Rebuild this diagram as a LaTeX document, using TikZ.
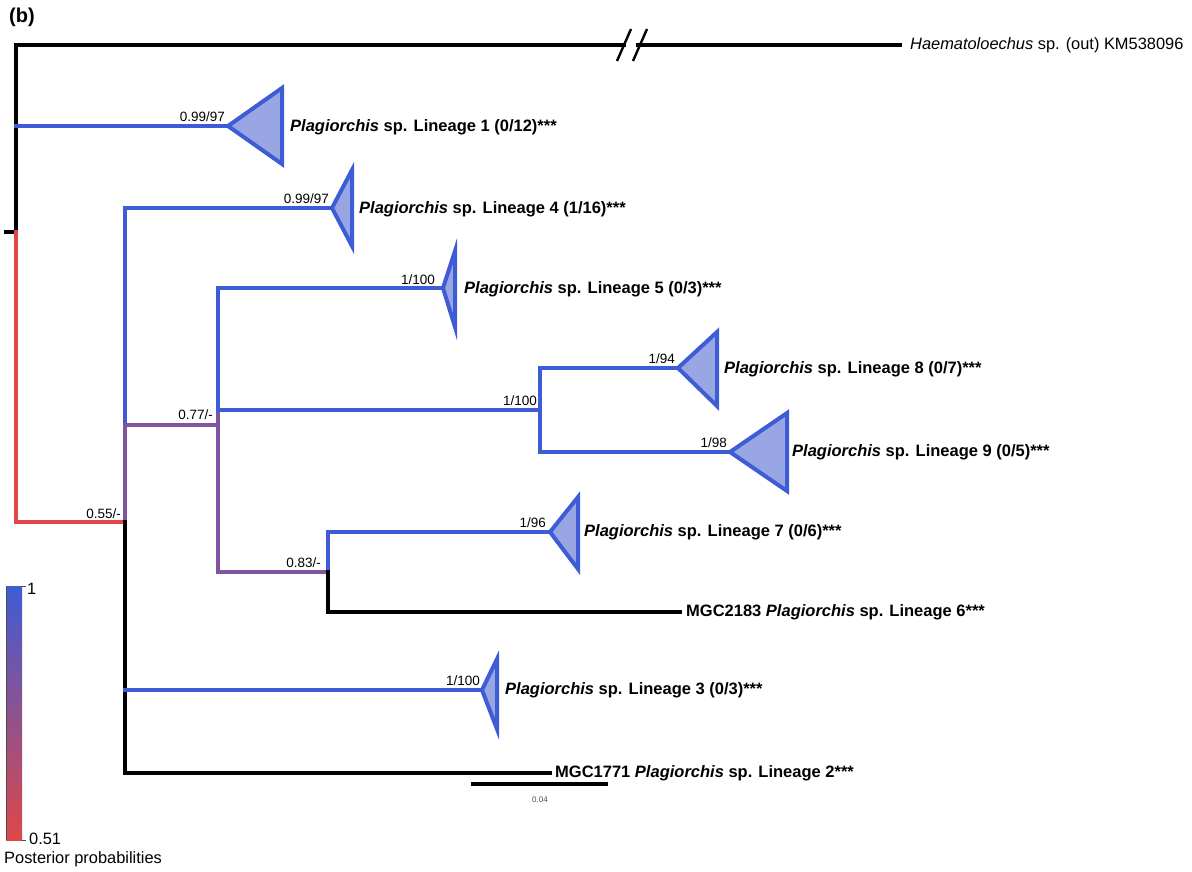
\documentclass[tikz,border=0pt]{standalone}
\usepackage{fontspec}
\setmainfont{Liberation Sans}
\definecolor{tblue}{RGB}{62,92,214}
\definecolor{tfill}{RGB}{152,166,228}
\definecolor{tred}{RGB}{222,72,72}
\definecolor{tpurp}{RGB}{128,84,160}
\tikzset{
  br/.style={line width=3.6pt, line cap=rect},
  tri/.style={line width=4pt, draw=tblue, fill=tfill, line join=miter},
  sup/.style={anchor=south east, inner sep=0pt, font=\fontsize{13.5}{14}\selectfont},
  lab/.style={anchor=west, inner sep=0pt, font=\fontsize{16.5}{18}\selectfont\bfseries},
}
\begin{document}
\begin{tikzpicture}[x=1pt,y=-1pt]
\useasboundingbox (0,0) rectangle (1192,871);
\node[anchor=north west, inner sep=0pt, font=\fontsize{20}{22}\selectfont\bfseries] (panel) at (9,8) {(b)};
% coordinates of internal nodes
\coordinate (root) at (16,232);
\coordinate (n55) at (125,522);
\coordinate (n77) at (218,425);
\coordinate (n89) at (540,410);
\coordinate (n83) at (328,572);
% outgroup
\draw[br] (6,232) -- (16,232);
\draw[br] (16,232) -- (16,45) -- (624,45);
\draw[br] (638,45) -- (900,45);
\draw[line width=2.4pt] (617,61) -- (631,29);
\draw[line width=2.4pt] (633,61) -- (647,29);
\node[anchor=west, inner sep=0pt, font=\fontsize{16.4}{18}\selectfont] (out) at (910,45) {\textit{Haematoloechus} sp. (out) KM538096};
% root red
\draw[br, tred] (16,232) -- (16,522) -- (n55);
\node[sup] (s55) at (121,519) {0.55/-};
% lineage 1
\draw[br, tblue] (16,126) -- (228,126);
\draw[tri] (228,126) -- (282,88) -- (282,164) -- cycle;
\node[sup] (s1) at (225,122) {0.99/97};
\node[lab] (L1) at (290,127) {\textit{Plagiorchis} sp. Lineage 1 (0/12)***};
% node 0.55 vertical
\draw[br, tblue] (125,208) -- (125,425);
\draw[br, tpurp] (125,425) -- (n55);
\draw[br, black] (n55) -- (125,773);
% lineage 4
\draw[br, tblue] (125,208) -- (332,208);
\draw[tri] (332,208) -- (352,170) -- (352,246) -- cycle;
\node[sup] (s4) at (329,204) {0.99/97};
\node[lab] (L4) at (359,209) {\textit{Plagiorchis} sp. Lineage 4 (1/16)***};
% 0.77 clade
\draw[br, tpurp] (125,425) -- (n77);
\node[sup] (s77) at (213,420) {0.77/-};
\draw[br, tblue] (218,288) -- (218,410);
\draw[br, tpurp] (218,410) -- (218,572) -- (n83);
% lineage 5
\draw[br, tblue] (218,288) -- (443,288);
\draw[tri] (443,288) -- (455,251) -- (455,327) -- cycle;
\node[sup] (s5) at (435,285) {1/100};
\node[lab] (L5) at (464,289) {\textit{Plagiorchis} sp. Lineage 5 (0/3)***};
% clade 8/9
\draw[br, tblue] (218,410) -- (n89);
\node[sup] (s89) at (537,406) {1/100};
\draw[br, tblue] (540,368) -- (540,452);
\draw[br, tblue] (540,368) -- (678,368);
\draw[tri] (678,368) -- (717,332) -- (717,406) -- cycle;
\node[sup] (s8) at (675,364) {1/94};
\node[lab] (L8) at (724,369) {\textit{Plagiorchis} sp. Lineage 8 (0/7)***};
\draw[br, tblue] (540,452) -- (730,452);
\draw[tri] (730,452) -- (787,413) -- (787,491) -- cycle;
\node[sup] (s9) at (727,448) {1/98};
\node[lab] (L9) at (792,452) {\textit{Plagiorchis} sp. Lineage 9 (0/5)***};
% 0.83 clade
\node[sup] (s83) at (321,568) {0.83/-};
\draw[br, tblue] (328,532) -- (n83);
\draw[br, black] (n83) -- (328,612);
\draw[br, tblue] (328,532) -- (550,532);
\draw[tri] (550,532) -- (578,497) -- (578,569) -- cycle;
\node[sup] (s7) at (546,528) {1/96};
\node[lab] (L7) at (584,532) {\textit{Plagiorchis} sp. Lineage 7 (0/6)***};
\draw[br, black] (328,612) -- (680,612);
\node[lab] (L6) at (686,612) {MGC2183 \textit{Plagiorchis} sp. Lineage 6***};
% lineage 3
\draw[br, tblue] (125,690) -- (482,690);
\draw[tri] (482,690) -- (497,659) -- (497,729) -- cycle;
\node[sup] (s3) at (480,686) {1/100};
\node[lab] (L3) at (505,690) {\textit{Plagiorchis} sp. Lineage 3 (0/3)***};
% lineage 2
\draw[br, black] (125,773) -- (550,773);
\node[lab] (L2) at (555,773) {MGC1771 \textit{Plagiorchis} sp. Lineage 2***};
% scale bar
\draw[line width=3.6pt] (471,784) -- (608,784);
\node[inner sep=0pt, font=\fontsize{8}{9}\selectfont, text=black!70] (scale) at (540,800) {0.04};
% legend
\shade[top color=tblue, bottom color=tred] (6,586) rectangle (22,840);
\draw[line width=0.6pt, black!70] (6,586) -- (6,840);
\draw[line width=0.6pt, black!70] (22,586) -- (26,586);
\draw[line width=0.6pt, black!70] (22,840) -- (26,840);
\node[anchor=west, inner sep=0pt, font=\fontsize{16.4}{18}\selectfont] (lmax) at (27,589) {1};
\node[anchor=west, inner sep=0pt, font=\fontsize{16.4}{18}\selectfont] (lmin) at (29,839) {0.51};
\node[anchor=west, inner sep=0pt, font=\fontsize{16.4}{18}\selectfont] (ltitle) at (4,859) {Posterior probabilities};
\end{tikzpicture}
\end{document}
